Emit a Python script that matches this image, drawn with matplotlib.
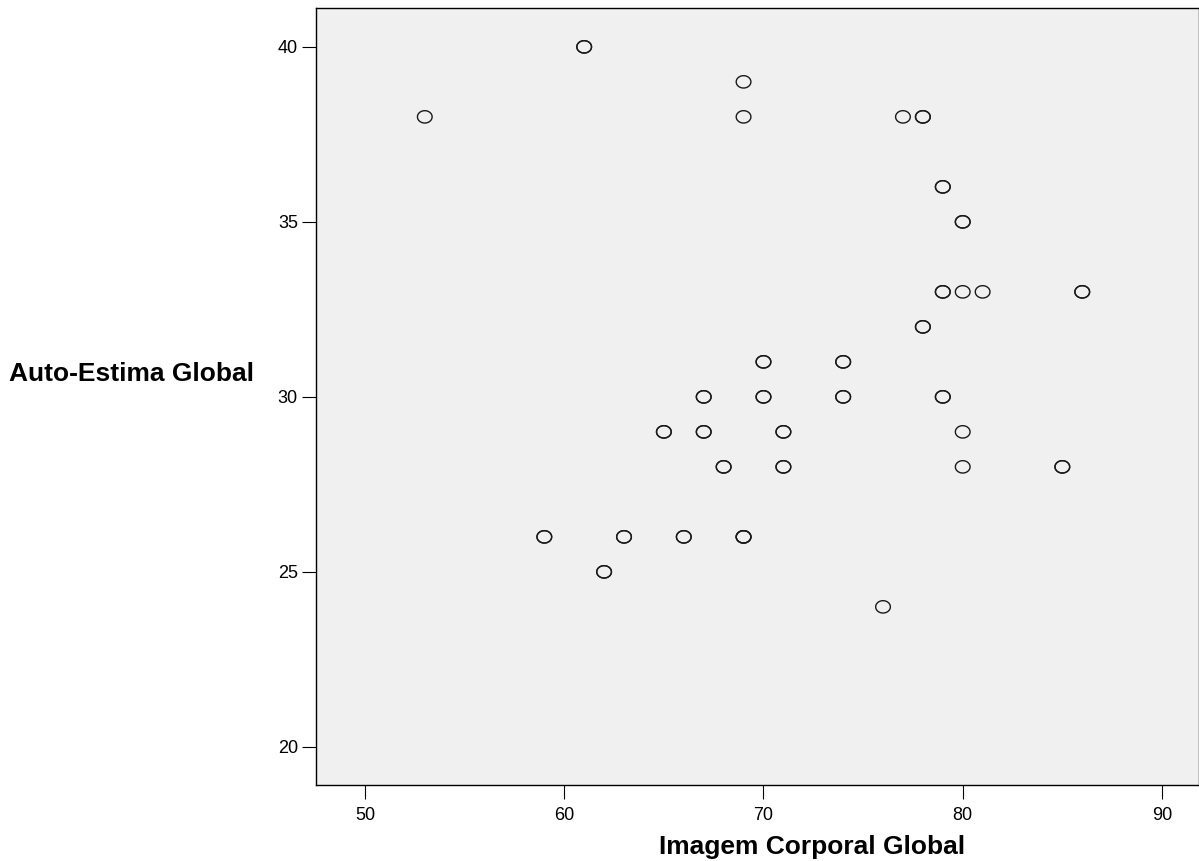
import matplotlib
matplotlib.use("Agg")
import matplotlib.pyplot as plt
import numpy as np
from matplotlib.path import Path

plt.rcParams['font.family'] = ['Liberation Sans', 'DejaVu Sans']

# Data: Imagem Corporal Global (x) vs Auto-Estima Global (y); repeated pairs are duplicates
imagem = [53, 61, 61, 69, 69, 77, 78, 78, 79, 79, 80, 80, 79, 79, 80, 81, 86, 86,
          78, 78, 70, 70, 74, 74, 67, 67, 70, 70, 74, 74, 79, 79, 65, 65, 67, 67,
          71, 71, 80, 68, 68, 71, 71, 80, 85, 85, 59, 59, 63, 63, 66, 66, 69, 69, 69,
          62, 62, 76]
autoestima = [38, 40, 40, 39, 38, 38, 38, 38, 36, 36, 35, 35, 33, 33, 33, 33, 33, 33,
              32, 32, 31, 31, 31, 31, 30, 30, 30, 30, 30, 30, 30, 30, 29, 29, 29, 29,
              29, 29, 29, 28, 28, 28, 28, 28, 28, 28, 26, 26, 26, 26, 26, 26, 26, 26, 26,
              25, 25, 24]

xticks = [50, 60, 70, 80, 90]
yticks = [20, 25, 30, 35, 40]

fig = plt.figure(figsize=(11.99, 8.61), dpi=100)
ax = fig.add_axes([316/1199, 76/861, 1 - 316/1199, (785-8)/861])
ax.set_facecolor('#f0f0f0')

t = np.linspace(0, 2*np.pi, 60)
ell = Path(np.column_stack([np.cos(t), 0.84*np.sin(t)]), closed=True)

ax.scatter(imagem, autoestima, marker=ell, s=112, facecolors='none',
           edgecolors='#1a1a1a', linewidths=1.0, zorder=3)

ax.set_xlim(47.54, 91.86)
ax.set_ylim(18.91, 41.11)
ax.set_xticks(xticks)
ax.set_yticks(yticks)
ax.tick_params(axis='both', direction='out', length=10, width=0.8,
               labelsize=13, colors='black')
ax.tick_params(axis='x', pad=6)
ax.tick_params(axis='y', pad=3)
for sp in ax.spines.values():
    sp.set_color('black')
    sp.set_linewidth(1.0)

fig.text(812/1199, 1 - 847/861, 'Imagem Corporal Global', fontsize=19,
         fontweight='bold', ha='center', va='center')
fig.text(254/1199, 1 - 374/861, 'Auto-Estima Global', fontsize=19, fontweight='bold',
         ha='right', va='center')

fig.savefig('out.png', dpi=100)
